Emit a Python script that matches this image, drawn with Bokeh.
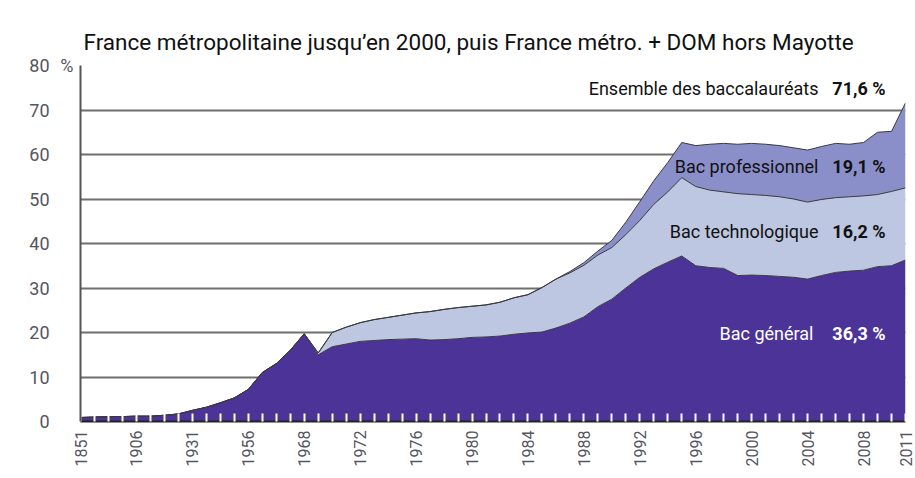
from math import pi
from bokeh.plotting import figure
from bokeh.models import ColumnDataSource, Range1d, FixedTicker, Label, LinearAxis
from bokeh.embed import file_html
from bokeh.resources import INLINE

years = [1851, 1881, 1891, 1901, 1906, 1911, 1921, 1926, 1931, 1936, 1946, 1951, 1956, 1961, 1966, 1967,
         1968, 1969, 1970, 1971, 1972, 1973, 1974, 1975, 1976, 1977, 1978, 1979, 1980, 1981, 1982, 1983,
         1984, 1985, 1986, 1987, 1988, 1989, 1990, 1991, 1992, 1993, 1994, 1995, 1996, 1997, 1998, 1999,
         2000, 2001, 2002, 2003, 2004, 2005, 2006, 2007, 2008, 2009, 2010, 2011]

general = [0.9, 1.0, 1.1, 1.1, 1.2, 1.2, 1.4, 1.7, 2.5, 3.2, 4.2, 5.3, 7.2, 11.0, 13.0, 16.0,
           19.7, 15.0, 16.8, 17.4, 18.0, 18.2, 18.4, 18.5, 18.6, 18.3, 18.4, 18.6, 18.9, 19.0, 19.2, 19.6,
           19.9, 20.1, 21.0, 22.1, 23.5, 25.8, 27.5, 30.0, 32.4, 34.3, 35.8, 37.2, 35.0, 34.6, 34.4, 32.8,
           32.9, 32.8, 32.6, 32.4, 32.0, 32.8, 33.5, 33.8, 34.0, 34.8, 35.0, 36.3]

techno = [0, 0, 0, 0, 0, 0, 0, 0, 0, 0, 0, 0, 0, 0, 0, 0,
          0.0, 0.4, 3.2, 3.8, 4.2, 4.7, 5.0, 5.4, 5.8, 6.4, 6.8, 7.0, 7.0, 7.2, 7.6, 8.2,
          8.6, 10.0, 11.0, 11.3, 11.6, 11.6, 11.6, 12.0, 12.8, 14.5, 15.8, 17.6, 17.8, 17.4, 17.2, 18.4,
          18.1, 18.0, 17.9, 17.6, 17.3, 17.1, 16.8, 16.7, 16.7, 16.2, 16.7, 16.2]

pro = [0, 0, 0, 0, 0, 0, 0, 0, 0, 0, 0, 0, 0, 0, 0, 0,
       0, 0, 0, 0, 0, 0, 0, 0, 0, 0, 0, 0, 0, 0, 0, 0,
       0, 0, 0, 0.3, 0.6, 0.9, 1.6, 2.8, 4.2, 5.3, 6.6, 7.9, 9.2, 10.3, 10.9, 11.1,
       11.5, 11.5, 11.5, 11.5, 11.7, 11.9, 12.2, 11.8, 12.0, 14.0, 13.5, 19.1]

y_ticks = [0, 10, 20, 30, 40, 50, 60, 70, 80]
y_unit = "%"

series_names = ["Bac général", "Bac technologique", "Bac professionnel", "Ensemble des baccalauréats"]
series_last = ["36,3 %", "16,2 %", "19,1 %", "71,6 %"]
label_levels = [19.8, 42.7, 57.3, 74.8]

colors = ["#4B3398", "#BDC7E1", "#8B8FC9"]
FONT = "Roboto"
LABEL_COLOR = "#55555f"

idx = list(range(len(years)))
src = ColumnDataSource(dict(idx=idx, general=general, techno=techno, pro=pro))

p = figure(width=915, height=478, x_range=Range1d(0, len(years) - 1), y_range=Range1d(0, 80),
           output_backend="svg", toolbar_location=None, y_axis_location=None,
           min_border_left=80, min_border_right=10, min_border_top=65, min_border_bottom=57)

p.varea_stack(["general", "techno", "pro"], x="idx", color=colors, source=src)
p.vline_stack(["general", "techno", "pro"], x="idx", line_color="#3a3a3a", line_width=1, source=src)

p.outline_line_color = None
p.background_fill_color = "white"
p.border_fill_color = "white"

# title
p.title.text = "France métropolitaine jusqu’en 2000, puis France métro. + DOM hors Mayotte"
p.title.text_font = FONT
p.title.text_font_size = "22.5px"
p.title.text_font_style = "normal"
p.title.text_color = "#111111"
p.title.align = "left"
p.title.offset = 3
p.title.standoff = 22

# inner left axis: unit sign next to the top tick
unit_axis = LinearAxis(ticker=FixedTicker(ticks=[y_ticks[-1]]),
                       major_label_overrides={y_ticks[-1]: y_unit})
unit_axis.major_label_text_font = FONT
unit_axis.major_label_text_font_size = "18px"
unit_axis.major_label_text_color = LABEL_COLOR
unit_axis.major_label_standoff = 7
unit_axis.major_tick_out = 0
unit_axis.major_tick_in = 0
unit_axis.minor_tick_out = 0
unit_axis.minor_tick_in = 0
unit_axis.axis_line_color = "#555555"
unit_axis.axis_line_width = 2
p.add_layout(unit_axis, "left")

# outer left axis: numbers
num_axis = LinearAxis(ticker=FixedTicker(ticks=y_ticks))
num_axis.major_label_text_font = FONT
num_axis.major_label_text_font_size = "18px"
num_axis.major_label_text_color = LABEL_COLOR
num_axis.major_label_standoff = 8
num_axis.major_tick_out = 0
num_axis.major_tick_in = 0
num_axis.minor_tick_out = 0
num_axis.minor_tick_in = 0
num_axis.axis_line_color = None
p.add_layout(num_axis, "left")

p.ygrid.ticker = FixedTicker(ticks=y_ticks)
p.ygrid.grid_line_color = "#6f6f6f"
p.ygrid.grid_line_width = 2
p.xgrid.visible = False

# x axis
p.xaxis.ticker = FixedTicker(ticks=idx)
p.xaxis.major_label_overrides = {i: (str(years[i]) if (i % 4 == 0 or i == len(years) - 1) else "") for i in idx}
p.xaxis.major_label_orientation = pi / 2
p.xaxis.major_label_text_font = FONT
p.xaxis.major_label_text_font_size = "16px"
p.xaxis.major_label_text_color = LABEL_COLOR
p.xaxis.major_label_standoff = 9
p.xaxis.major_tick_in = 8
p.xaxis.major_tick_out = 0
p.xaxis.major_tick_line_color = "white"
p.xaxis.major_tick_line_width = 2
p.xaxis.minor_tick_in = 0
p.xaxis.minor_tick_out = 0
p.xaxis.axis_line_color = "#222222"
p.xaxis.axis_line_width = 2

# inside labels
bold_offsets = [-20, -20, -20, -20]
reg_offsets = [-92, -87, -87, -87]
txt_colors = ["white", "#111111", "#111111", "#111111"]
for name, last, lvl, bo, ro, c in zip(series_names, series_last, label_levels, bold_offsets, reg_offsets, txt_colors):
    p.add_layout(Label(x=len(years) - 1, y=lvl, text=last, x_offset=bo, text_align="right",
                       text_baseline="middle", text_font=FONT, text_font_size="18px",
                       text_font_style="bold", text_color=c))
    p.add_layout(Label(x=len(years) - 1, y=lvl, text=name, x_offset=ro, text_align="right",
                       text_baseline="middle", text_font=FONT, text_font_size="18px",
                       text_color=c))

open("out.html", "w").write(file_html(p, INLINE))
